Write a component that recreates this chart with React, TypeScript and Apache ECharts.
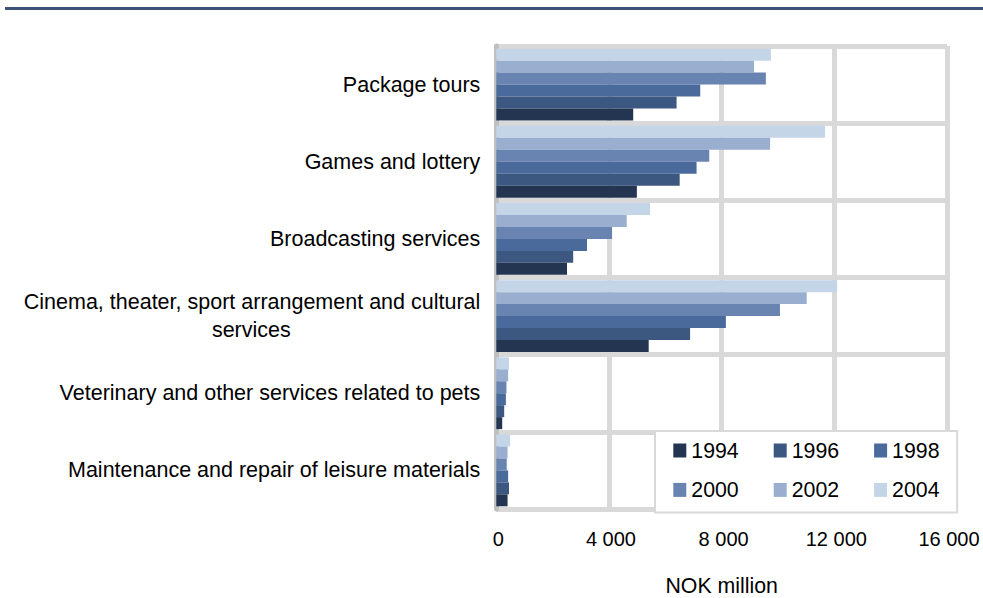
import React, { useEffect, useRef } from "react";
import * as echarts from "echarts";

const categories = [
  "Package tours",
  "Games and lottery",
  "Broadcasting services",
  "Cinema, theater, sport arrangement and cultural services",
  "Veterinary and other services related to pets",
  "Maintenance and repair of leisure materials",
];
const years = ["1994", "1996", "1998", "2000", "2002", "2004"];
const v1994 = [4860, 4990, 2510, 5410, 210, 400];
const v1996 = [6400, 6510, 2730, 6880, 280, 450];
const v1998 = [7240, 7110, 3220, 8150, 340, 420];
const v2000 = [9570, 7560, 4110, 10070, 360, 370];
const v2002 = [9150, 9720, 4630, 11020, 420, 400];
const v2004 = [9750, 11670, 5460, 12100, 450, 490];
const seriesValues = [v1994, v1996, v1998, v2000, v2002, v2004];
const colors = ["#233550", "#3c5780", "#4a6a9c", "#6a84b2", "#9aaed0", "#c5d5e8"];
const xTicks = { min: 0, max: 16000, interval: 4000 };
const axisName = "NOK million";

const FONT = "'Liberation Sans', Arial, sans-serif";

function fmt(v: number): string {
  const s = String(Math.round(v));
  return s.replace(/\B(?=(\d{3})+(?!\d))/g, " ");
}

export default function App() {
  const ref = useRef<HTMLDivElement>(null);
  useEffect(() => {
    document.body.style.margin = "0";
    if (!ref.current) return;
    const chart = echarts.init(ref.current, null, { renderer: "svg" });
    const cinema = categories[3];
    const series = years
      .map((y, i) => ({
        name: y,
        type: "bar" as const,
        data: seriesValues[i],
        barGap: "0%",
        barCategoryGap: "7%",
        itemStyle: { color: colors[i] },
      }))
      .reverse();
    chart.setOption({
      animation: false,
      textStyle: { fontFamily: FONT },
      graphic: [
        {
          type: "rect",
          shape: { x: 5, y: 7, width: 978, height: 3 },
          style: { fill: "#3d5278" },
        },
      ],
      legend: {
        data: years,
        left: 655,
        top: 431,
        width: 330,
        orient: "horizontal",
        icon: "rect",
        itemWidth: 13,
        itemHeight: 14,
        itemGap: 18.4,
        padding: [9, 1, 12, 18.3],
        borderColor: "#d9d9d9",
        borderWidth: 2,
        backgroundColor: "#ffffff",
        textStyle: {
          fontSize: 21.3,
          width: 64,
          lineHeight: 19.5,
          overflow: "none",
          color: "#000",
          fontFamily: FONT,
        },
      },
      grid: {
        left: 496.3,
        right: 36,
        top: 46,
        bottom: 89,
        containLabel: false,
        outerBoundsMode: "none",
      },
      xAxis: {
        type: "value",
        min: xTicks.min,
        max: xTicks.max,
        interval: xTicks.interval,
        name: axisName,
        nameLocation: "middle",
        nameGap: 66,
        nameTextStyle: { fontSize: 21.3, color: "#000", fontFamily: FONT },
        axisLine: { show: false },
        axisTick: { show: false },
        axisLabel: {
          fontSize: 20,
          color: "#000",
          margin: 20,
          padding: [0, 0, 0, 4],
          fontFamily: FONT,
          formatter: (v: number) => fmt(v),
        },
        splitLine: { show: true, lineStyle: { color: "#d9d9d9", width: 5 } },
      },
      yAxis: {
        type: "category",
        data: categories,
        inverse: true,
        axisTick: { show: false },
        axisLine: { show: true, lineStyle: { color: "#c0c0c0", width: 5 } },
        axisLabel: {
          fontSize: 21.5,
          color: "#000",
          margin: 16,
          fontFamily: FONT,
          formatter: (v: string) =>
            v === cinema
              ? "{a|Cinema, theater, sport arrangement and cultural}\n{b|services}"
              : v,
          rich: {
            a: { fontSize: 21.5, lineHeight: 28, color: "#000", fontFamily: FONT },
            b: {
              fontSize: 21.5,
              lineHeight: 28,
              color: "#000",
              fontFamily: FONT,
              width: 458,
              align: "center",
            },
          },
        },
        splitLine: { show: true, lineStyle: { color: "#d9d9d9", width: 5 } },
      },
      series,
    });
    return () => chart.dispose();
  }, []);
  return <div ref={ref} style={{ width: 983, height: 598 }} />;
}
